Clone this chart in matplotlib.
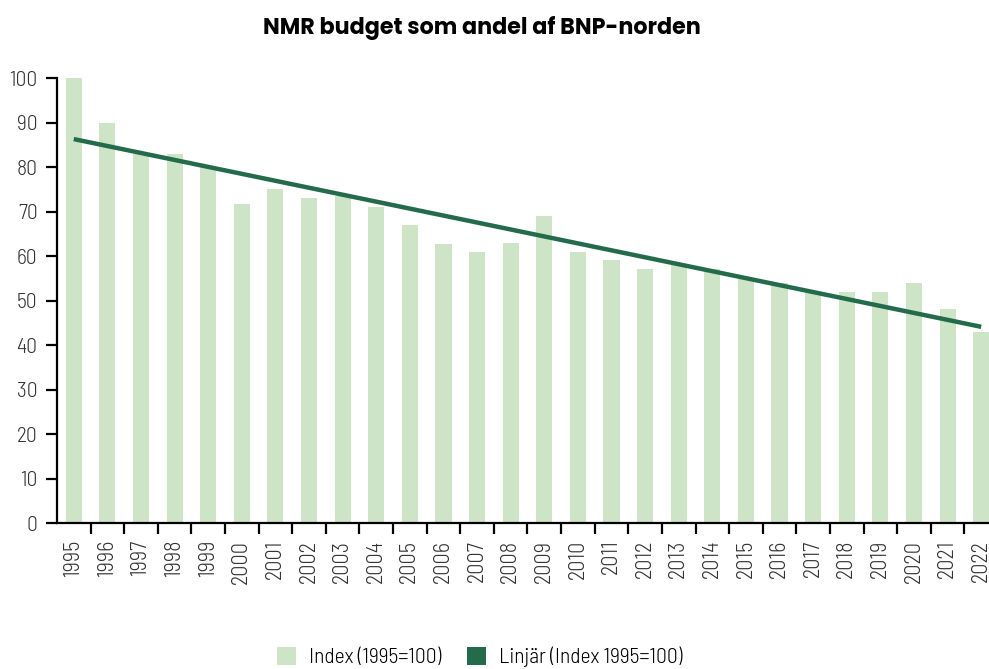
import numpy as np
import matplotlib.pyplot as plt
from matplotlib.patches import Patch
from matplotlib import font_manager

years = [str(y) for y in range(1995, 2023)]
index_values = [100, 90, 82.9, 83, 80.1, 71.8, 75.1, 73, 73.5, 71, 67, 62.8, 61, 63, 69,
                61, 59, 57, 58, 57, 55, 54, 52, 52, 52, 54, 48, 42.9]

bar_color = "#cde4c6"
line_color = "#246b4c"


def pick_font(candidates, weight):
    # first candidate that is installed in the wanted weight
    for name in candidates:
        for f in font_manager.fontManager.ttflist:
            if f.name == name and f.weight == weight and f.style == "normal":
                return [name, "DejaVu Sans"]
    return ["DejaVu Sans"]


narrow = pick_font(["Barlow Semi Condensed", "Barlow Condensed", "Roboto Condensed"], 300)
title_font = pick_font(["Poppins", "Lexend", "Outfit", "Montserrat", "Lato"], 700)

x = np.arange(len(years))
slope, intercept = np.polyfit(x, index_values, 1)
trend = slope * x + intercept

fig = plt.figure(figsize=(9.89, 6.69), dpi=100)
ax = fig.add_axes([0.0576, 0.2182, 0.9515, 0.6652])

ax.bar(x, index_values, width=0.48, color=bar_color, zorder=1)
ax.plot(x, trend, color=line_color, linewidth=3.2, solid_capstyle="butt", zorder=2)

ax.set_xlim(-0.5, len(years) - 0.5)
ax.set_ylim(0, 100)
ax.set_yticks(range(0, 101, 10))
ax.set_yticklabels([str(v) for v in range(0, 101, 10)], family=narrow, fontweight=300,
                   fontsize=15.5, color="#333333")

ax.set_xticks(x)
ax.set_xticklabels(years, rotation=90, family=narrow, fontweight=300, fontsize=16, color="#333333")
ax.set_xticks(x[:-1] + 0.5, minor=True)
ax.tick_params(axis="x", which="major", length=0, pad=12)
ax.tick_params(axis="x", which="minor", length=8, width=1.6, direction="out")
ax.tick_params(axis="y", length=8, width=1.6, direction="out", pad=6)

for side in ["top", "right"]:
    ax.spines[side].set_visible(False)
for side in ["left", "bottom"]:
    ax.spines[side].set_linewidth(1.6)

fig.text(0.487, 0.958, "NMR budget som andel af BNP-norden", ha="center", va="center",
         family=title_font, fontweight=700, fontsize=16)

handles = [Patch(facecolor=bar_color, label="Index (1995=100)"),
           Patch(facecolor=line_color, label="Linjär (Index 1995=100)")]
fig.legend(handles=handles, loc="center", bbox_to_anchor=(0.485, 0.018), ncol=2,
           frameon=False, prop={"family": narrow, "weight": 300, "size": 15.5},
           handlelength=0.9, handleheight=0.9, handletextpad=0.6, columnspacing=1.2)

fig.savefig("out.png", dpi=100)
plt.close(fig)
